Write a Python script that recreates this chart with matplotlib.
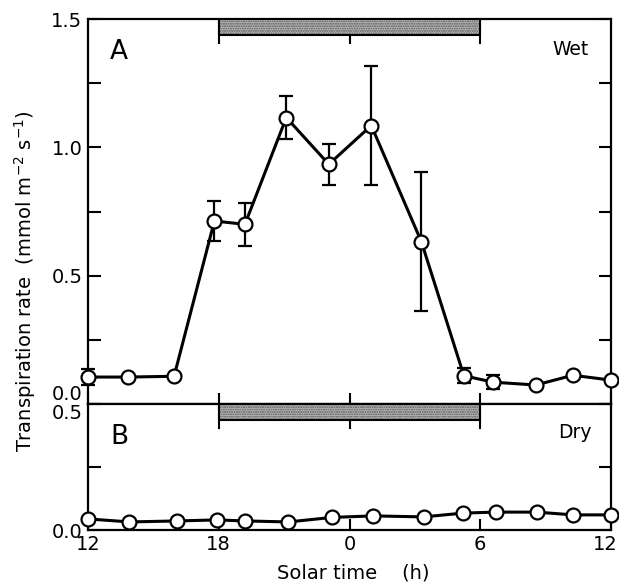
import matplotlib.pyplot as plt
from matplotlib.patches import Rectangle
from matplotlib.transforms import ScaledTranslation

plt.rcParams['font.family'] = ['DejaVu Sans']

# ---------Datos-----------
wet_hora = [12, 13.85, 15.95, 17.8, 19.2, 21.1, 23.05, 25.0, 27.3, 29.25, 30.6, 32.55, 34.25, 36]
wet_tasa = [0.105, 0.105, 0.108, 0.713, 0.70, 1.116, 0.934, 1.085, 0.632, 0.11, 0.085, 0.074, 0.112, 0.093]
wet_err = [0.03, 0, 0, 0.078, 0.083, 0.083, 0.08, 0.23, 0.27, 0.03, 0.027, 0, 0, 0]

dry_hora = [12, 13.9, 16.1, 17.9, 19.2, 21.2, 23.2, 25.1, 27.4, 29.2, 30.7, 32.6, 34.25, 36]
dry_tasa = [0.044, 0.032, 0.036, 0.04, 0.036, 0.032, 0.05, 0.056, 0.052, 0.067, 0.071, 0.071, 0.06, 0.06]

noche = (18, 30)
ticks_x = [12, 18, 24, 30, 36]
etiquetas_x = ["12", "18", "0", "6", "12"]

fig = plt.figure(figsize=(6.19, 5.86), dpi=100)
ax_a = fig.add_axes([88/619, 1-404/586, 523/619, 385/586])
ax_b = fig.add_axes([88/619, 1-530/586, 523/619, 126/586])


def estilo(ax, ymax, etiquetas):
    ax.set_xlim(12, 36)
    ax.set_ylim(0, ymax)
    for s in ax.spines.values():
        s.set_linewidth(1.6)
    ax.set_yticks([i * 0.5 for i in range(len(etiquetas))])
    ax.set_yticklabels(etiquetas)
    ax.set_yticks([i * 0.25 for i in range(int(round(ymax / 0.25)) + 1)], minor=True)
    ax.tick_params(axis='y', which='both', direction='in', length=9, width=1.5,
                   right=True, labelsize=14, pad=4)
    ax.set_xticks(ticks_x)
    ax.tick_params(axis='x', direction='in', length=8, width=1.5, top=False, labelsize=14)


def barra_noche(ax, ymax, alto):
    ax.add_patch(Rectangle((noche[0], ymax - alto), noche[1] - noche[0], alto,
                           facecolor='#c0c0c0', edgecolor='#505050', hatch='.......',
                           linewidth=0, zorder=3))
    ax.add_patch(Rectangle((noche[0], ymax - alto), noche[1] - noche[0], alto,
                           facecolor='none', edgecolor='black', linewidth=1.5, zorder=4))
    for x in [18, 24, 30]:
        ax.plot([x, x], [ymax, ymax - alto * 1.5], color='black', lw=1.5, zorder=2)


# ---------Panel A: Wet-----------
estilo(ax_a, 1.5, ["0.0", "0.5", "1.0", "1.5"])
ax_a.set_xticklabels([])
ax_a.get_yticklabels()[0].set_va('bottom')
for x, y, e in zip(wet_hora, wet_tasa, wet_err):
    if e > 0:
        ax_a.errorbar(x, y, yerr=e, fmt='none', ecolor='black', elinewidth=1.6,
                      capsize=5, capthick=1.6, zorder=4, clip_on=False)
ax_a.plot(wet_hora, wet_tasa, color='black', lw=2.2, marker='o', markersize=10,
          markerfacecolor='white', markeredgecolor='black', markeredgewidth=1.6,
          zorder=5, clip_on=False)
barra_noche(ax_a, 1.5, 0.062)
ax_a.text(0.042, 0.914, "A", transform=ax_a.transAxes, fontsize=19, va='center')
ax_a.text(0.958, 0.922, "Wet", transform=ax_a.transAxes, fontsize=13.5, ha='right', va='center')

# ---------Panel B: Dry-----------
estilo(ax_b, 0.5, ["0.0", "0.5"])
ax_b.set_xticklabels(etiquetas_x)
ax_b.get_yticklabels()[-1].set_va('top')
ult = ax_b.get_xticklabels()[-1]
ult.set_ha('right')
ult.set_transform(ult.get_transform() + ScaledTranslation(0.07, 0, fig.dpi_scale_trans))
ax_b.plot(dry_hora, dry_tasa, color='black', lw=2.2, marker='o', markersize=10,
          markerfacecolor='white', markeredgecolor='black', markeredgewidth=1.6,
          zorder=5, clip_on=False)
barra_noche(ax_b, 0.5, 0.063)
ax_b.text(0.042, 0.738, "B", transform=ax_b.transAxes, fontsize=19, va='center')
ax_b.text(0.962, 0.77, "Dry", transform=ax_b.transAxes, fontsize=13.5, ha='right', va='center')

fig.text(353/619, 1-573/586, "Solar time    (h)", ha='center', va='center', fontsize=14)
fig.text(25/619, 1-281/586, "Transpiration rate  (mmol m$^{-2}$ s$^{-1}$)", rotation=90,
         ha='center', va='center', fontsize=14)

plt.savefig("out.png", dpi=100)
